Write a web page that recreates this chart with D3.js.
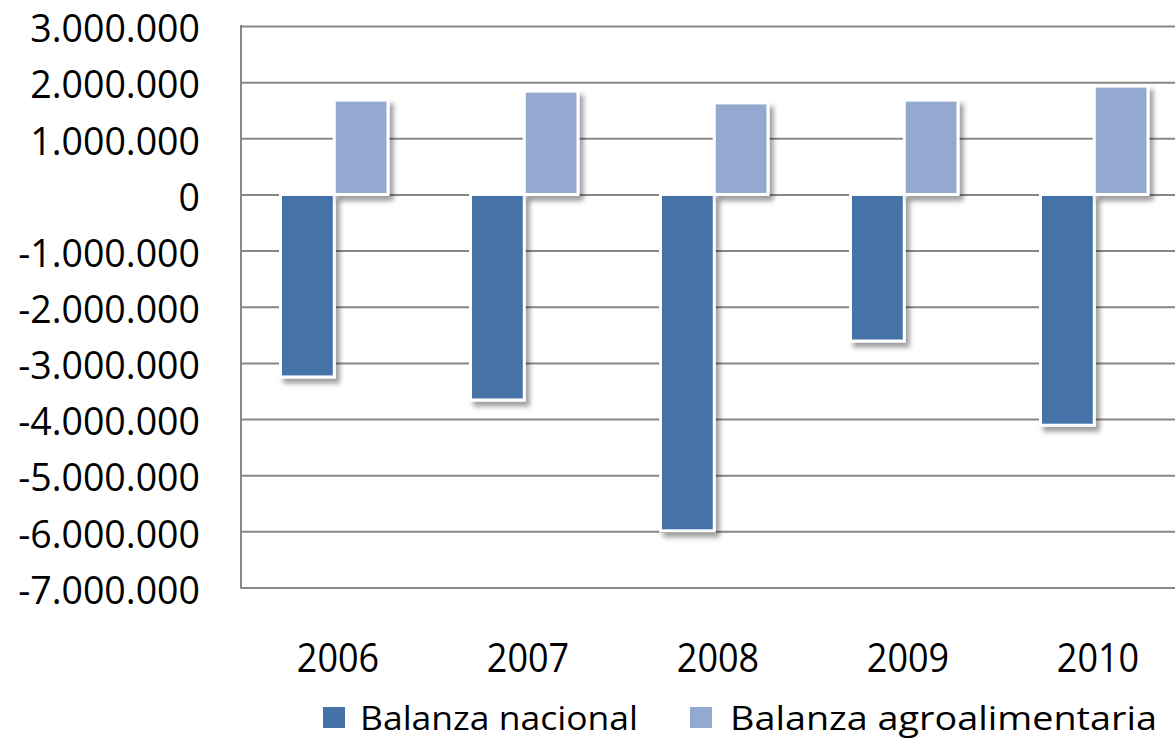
<!DOCTYPE html>
<html>
<head>
<meta charset="utf-8">
<script src="https://cdn.jsdelivr.net/npm/d3@7"></script>
<style>
  body { margin: 0; background: #fff; }
  svg { display: block; }
  .tick text { font-family: "Open Sans", sans-serif; fill: #000; }
</style>
</head>
<body>
<svg id="chart" width="1175" height="739"></svg>
<script>
// data
const years = ['2006', '2007', '2008', '2009', '2010'];
const nacional = [-3250000, -3660000, -5990000, -2610000, -4110000];
const agro = [1680000, 1840000, 1630000, 1680000, 1930000];
const seriesNames = ['Balanza nacional', 'Balanza agroalimentaria'];
const seriesColors = ['#4472a7', '#94a9d0'];
const yTicks = d3.range(-7000000, 3000001, 1000000);

const svg = d3.select('#chart');
const plotLeft = 241, plotTop = 26, plotBottom = 587.5, plotRight = 1191;

const locale = d3.formatLocale({ decimal: ',', thousands: '.', grouping: [3], currency: ['', ' €'], minus: '-' });
const fmt = locale.format(',');

const x = d3.scaleBand().domain(years).range([plotLeft, plotRight]);
const x1 = d3.scaleBand().domain(seriesNames).range([0, 107.5]);
const y = d3.scaleLinear().domain([-7000000, 3000000]).range([plotBottom, plotTop]);

// drop shadow like the office chart
const defs = svg.append('defs');
defs.append('filter')
  .attr('id', 'shadow')
  .attr('x', '-30%').attr('y', '-30%')
  .attr('width', '160%').attr('height', '160%')
  .append('feDropShadow')
  .attr('dx', 4).attr('dy', 5)
  .attr('stdDeviation', 2.5)
  .attr('flood-color', '#000')
  .attr('flood-opacity', 0.38);

// gridlines
svg.append('g')
  .attr('transform', `translate(${plotLeft},0)`)
  .call(d3.axisLeft(y).tickValues(yTicks).tickSize(-(plotRight - plotLeft)).tickFormat(''))
  .call(g => g.select('.domain').remove())
  .call(g => g.selectAll('line').attr('stroke', '#878787').attr('stroke-width', 2));

// left axis line
svg.append('line')
  .attr('x1', plotLeft).attr('x2', plotLeft)
  .attr('y1', plotTop - 1).attr('y2', plotBottom + 1)
  .attr('stroke', '#878787').attr('stroke-width', 2);

// y labels
svg.append('g')
  .attr('transform', `translate(${plotLeft},0)`)
  .call(d3.axisLeft(y).tickValues(yTicks).tickSize(0).tickPadding(41).tickFormat(fmt))
  .call(g => g.select('.domain').remove())
  .call(g => g.selectAll('text').attr('font-size', 37.5).attr('dy', '0.42em'));

// bars
const rows = years.map((yr, i) => ({ year: yr, values: [nacional[i], agro[i]] }));
const groups = svg.append('g').selectAll('g')
  .data(rows)
  .join('g')
  .attr('transform', d => `translate(${x(d.year) + 39.5},0)`);

groups.selectAll('rect')
  .data(d => d.values.map((v, k) => ({ name: seriesNames[k], value: v, k })))
  .join('rect')
  .attr('x', d => x1(d.name))
  .attr('width', x1.bandwidth())
  .attr('y', d => y(Math.max(0, d.value)))
  .attr('height', d => Math.abs(y(d.value) - y(0)))
  .attr('fill', d => seriesColors[d.k])
  .attr('stroke', '#fff')
  .attr('stroke-width', 3)
  .attr('filter', 'url(#shadow)');

// x labels
svg.append('g').selectAll('text')
  .data(years)
  .join('text')
  .attr('transform', d => `translate(${x(d) + x.bandwidth() / 2 + 2},672) scale(1,1.1)`)
  .attr('text-anchor', 'middle')
  .attr('font-family', '"Open Sans", sans-serif')
  .attr('font-size', 36)
  .text(d => d);

// legend
const legendPos = [{ sx: 323, tx: 360, w: 278 }, { sx: 690, tx: 730, w: 427 }];
const legend = svg.append('g').selectAll('g')
  .data(seriesNames)
  .join('g');
legend.append('rect')
  .attr('x', (d, i) => legendPos[i].sx)
  .attr('y', 707)
  .attr('width', 22).attr('height', 21)
  .attr('fill', (d, i) => seriesColors[i]);
legend.append('text')
  .attr('x', (d, i) => legendPos[i].tx)
  .attr('y', 730)
  .attr('font-family', '"Open Sans", sans-serif')
  .attr('font-size', 32)
  .attr('textLength', (d, i) => legendPos[i].w)
  .attr('lengthAdjust', 'spacingAndGlyphs')
  .text(d => d);
</script>
</body>
</html>
